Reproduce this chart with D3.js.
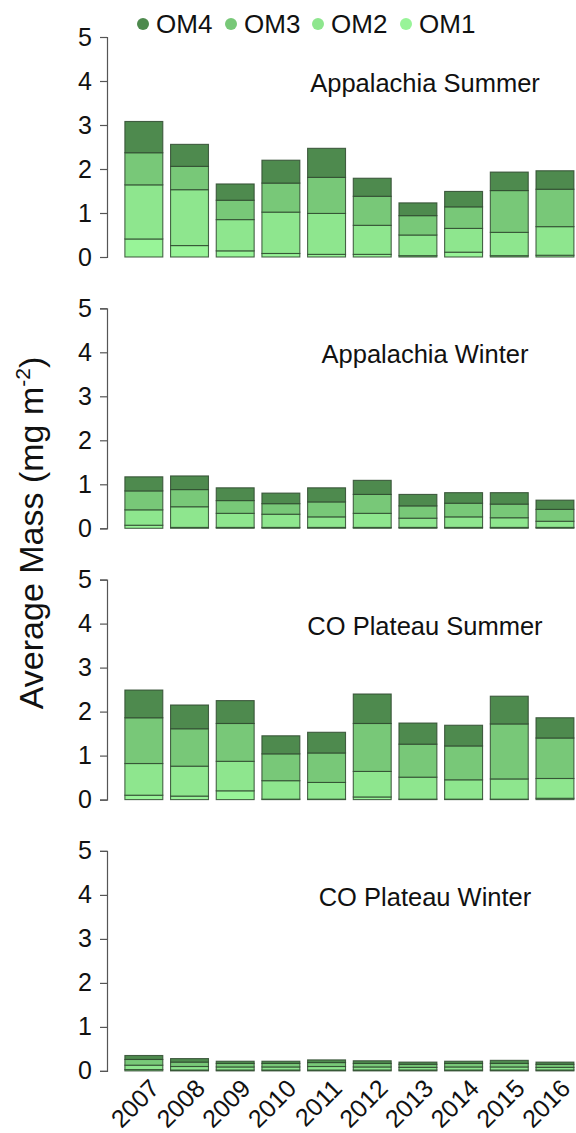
<!DOCTYPE html>
<html>
<head>
<meta charset="utf-8">
<script src="https://cdn.jsdelivr.net/npm/d3@7"></script>
<style>
  body { margin: 0; background: #fff; }
  text { font-family: "Liberation Sans", Arial, sans-serif; fill: #111; }
</style>
</head>
<body>
<div id="chart"></div>
<script>
const years = ["2007", "2008", "2009", "2010", "2011", "2012", "2013", "2014", "2015", "2016"];
const seriesNames = ["OM1", "OM2", "OM3", "OM4"];
const legendOrder = ["OM4", "OM3", "OM2", "OM1"];
const panelTitles = ["Appalachia Summer", "Appalachia Winter", "CO Plateau Summer", "CO Plateau Winter"];
const yTicks = [0, 1, 2, 3, 4, 5];

// segment masses (mg m-2), bottom to top
const appSummerOM1 = [0.41, 0.26, 0.14, 0.08, 0.06, 0.06, 0.03, 0.11, 0.03, 0.04];
const appSummerOM2 = [1.23, 1.27, 0.71, 0.94, 0.93, 0.66, 0.47, 0.54, 0.53, 0.65];
const appSummerOM3 = [0.73, 0.53, 0.44, 0.66, 0.82, 0.66, 0.44, 0.49, 0.95, 0.85];
const appSummerOM4 = [0.71, 0.50, 0.37, 0.52, 0.66, 0.41, 0.29, 0.35, 0.42, 0.42];

const appWinterOM1 = [0.07, 0.02, 0.02, 0.02, 0.02, 0.02, 0.02, 0.02, 0.02, 0.02];
const appWinterOM2 = [0.35, 0.47, 0.32, 0.30, 0.24, 0.32, 0.21, 0.24, 0.22, 0.14];
const appWinterOM3 = [0.43, 0.39, 0.29, 0.24, 0.34, 0.43, 0.28, 0.31, 0.31, 0.27];
const appWinterOM4 = [0.32, 0.31, 0.29, 0.24, 0.32, 0.32, 0.26, 0.24, 0.26, 0.21];

const coSummerOM1 = [0.10, 0.08, 0.20, 0.01, 0.01, 0.06, 0.01, 0.01, 0.01, 0.03];
const coSummerOM2 = [0.72, 0.68, 0.67, 0.42, 0.38, 0.58, 0.50, 0.44, 0.46, 0.45];
const coSummerOM3 = [1.04, 0.85, 0.86, 0.61, 0.67, 1.09, 0.75, 0.77, 1.25, 0.92];
const coSummerOM4 = [0.63, 0.54, 0.52, 0.41, 0.47, 0.67, 0.48, 0.47, 0.63, 0.46];

const coWinterOM1 = [0.03, 0.02, 0.02, 0.02, 0.02, 0.02, 0.02, 0.02, 0.02, 0.02];
const coWinterOM2 = [0.10, 0.08, 0.07, 0.07, 0.08, 0.07, 0.06, 0.07, 0.07, 0.06];
const coWinterOM3 = [0.13, 0.10, 0.08, 0.08, 0.09, 0.08, 0.07, 0.08, 0.08, 0.07];
const coWinterOM4 = [0.09, 0.08, 0.05, 0.05, 0.06, 0.06, 0.05, 0.05, 0.07, 0.05];

const panelData = [
  [appSummerOM1, appSummerOM2, appSummerOM3, appSummerOM4],
  [appWinterOM1, appWinterOM2, appWinterOM3, appWinterOM4],
  [coSummerOM1, coSummerOM2, coSummerOM3, coSummerOM4],
  [coWinterOM1, coWinterOM2, coWinterOM3, coWinterOM4]
];

const colors = { OM1: "#98f498", OM2: "#8ee68e", OM3: "#78c878", OM4: "#4e8a4e" };

const width = 576, height = 1133;
const svg = d3.select("#chart").append("svg")
  .attr("width", width)
  .attr("height", height);

const x = d3.scaleBand()
  .domain(years)
  .range([121, 577.8])
  .paddingInner(0.17)
  .paddingOuter(0.085);

const axisX = 107;
const panelTop0 = 37, panelStep = 271.3, panelH = 220;

const stack = d3.stack().keys(seriesNames);

panelData.forEach((series, i) => {
  const top = panelTop0 + i * panelStep;
  const y = d3.scaleLinear().domain([0, 5]).range([top + panelH, top]);

  const g = svg.append("g");

  const rows = years.map((yr, j) => {
    const row = { year: yr };
    seriesNames.forEach((s, k) => { row[s] = series[k][j]; });
    return row;
  });

  const layers = stack(rows);

  g.selectAll("g.layer")
    .data(layers)
    .join("g")
    .attr("class", "layer")
    .attr("fill", d => colors[d.key])
    .selectAll("rect")
    .data(d => d)
    .join("rect")
    .attr("x", d => x(d.data.year))
    .attr("width", x.bandwidth())
    .attr("y", d => y(d[1]))
    .attr("height", d => y(d[0]) - y(d[1]))
    .attr("stroke", "#2f4a2f")
    .attr("stroke-opacity", 0.85)
    .attr("stroke-width", 1.1);

  // y axis
  const yAxis = d3.axisLeft(y).tickValues(yTicks).tickFormat(d3.format("d")).tickSize(7).tickPadding(8);
  const ax = g.append("g")
    .attr("transform", `translate(${axisX},0)`)
    .call(yAxis);
  ax.select(".domain").attr("stroke", "#555").attr("stroke-width", 1.2);
  ax.selectAll(".tick line").attr("stroke", "#555").attr("stroke-width", 1.2);
  ax.selectAll(".tick text")
    .attr("font-size", 25)
    .attr("font-family", "Liberation Sans, Arial, sans-serif")
    .attr("fill", "#111");

  g.append("text")
    .attr("x", 425)
    .attr("y", y(3.75))
    .attr("text-anchor", "middle")
    .attr("font-size", 25.5)
    .text(panelTitles[i]);

  if (i === panelData.length - 1) {
    const base = y(0);
    g.selectAll("text.year")
      .data(years)
      .join("text")
      .attr("class", "year")
      .attr("text-anchor", "end")
      .attr("font-size", 25)
      .attr("transform", d => `translate(${x(d) + x.bandwidth() / 2 + 17},${base + 19}) rotate(-45)`)
      .text(d => d);
  }
});

// legend
const legend = svg.append("g");
const legendX = [143, 231, 318, 406];
legendOrder.forEach((k, i) => {
  legend.append("circle")
    .attr("cx", legendX[i])
    .attr("cy", 24)
    .attr("r", 6)
    .attr("fill", colors[k]);
  legend.append("text")
    .attr("x", legendX[i] + 13)
    .attr("y", 33)
    .attr("font-size", 26)
    .text(k);
});

// y axis title
svg.append("text")
  .attr("transform", "translate(43,533) rotate(-90)")
  .attr("text-anchor", "middle")
  .attr("font-size", 34)
  .html('Average Mass (mg m<tspan dy="-13" font-size="21">-2</tspan><tspan dy="13">)</tspan>');
</script>
</body>
</html>
